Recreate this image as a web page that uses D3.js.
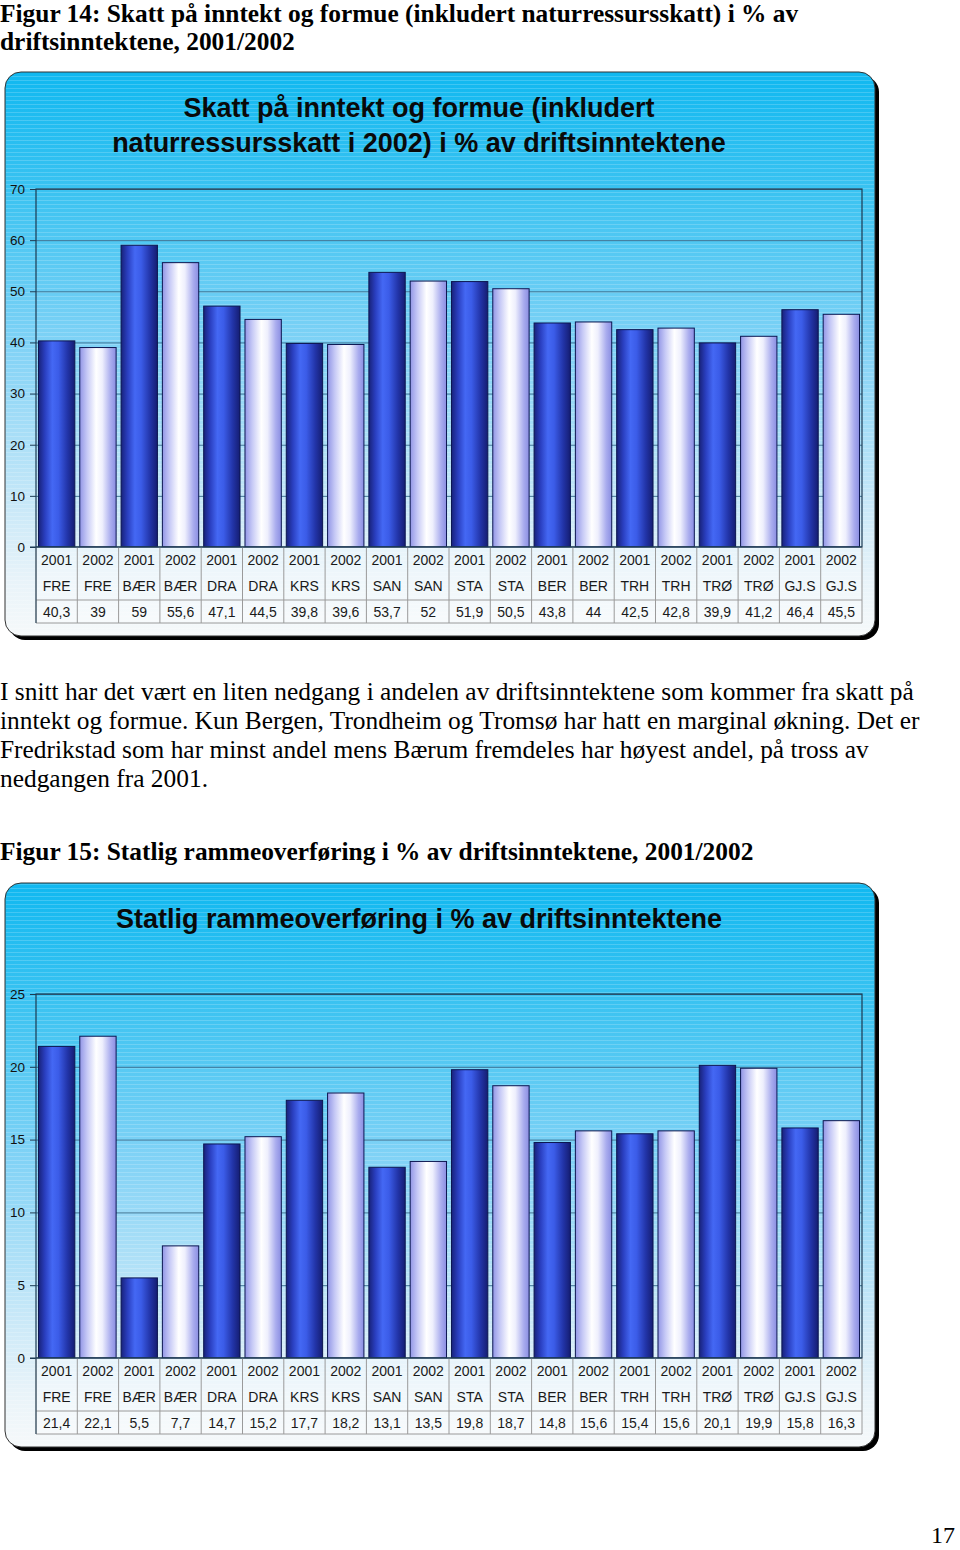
<!DOCTYPE html>
<html>
<head>
<meta charset="utf-8">
<script src="https://cdn.jsdelivr.net/npm/d3@7"></script>
<style>
  body { margin: 0; background: #fff; }
  svg { display: block; }
  .serif { font-family: "Liberation Serif", "Times New Roman", serif; fill: #000; }
  .sans { font-family: "Liberation Sans", Arial, sans-serif; }
</style>
</head>
<body>
<svg id="page" width="960" height="1550"></svg>
<script>
// ---- data ----
const cities = ["FRE", "BÆR", "DRA", "KRS", "SAN", "STA", "BER", "TRH", "TRØ", "GJ.S"];
const years = ["2001", "2002"];
const skattValues = [40.3, 39, 59, 55.6, 47.1, 44.5, 39.8, 39.6, 53.7, 52, 51.9, 50.5, 43.8, 44, 42.5, 42.8, 39.9, 41.2, 46.4, 45.5];
const rammeValues = [21.4, 22.1, 5.5, 7.7, 14.7, 15.2, 17.7, 18.2, 13.1, 13.5, 19.8, 18.7, 14.8, 15.6, 15.4, 15.6, 20.1, 19.9, 15.8, 16.3];
const skattTicks = [0, 10, 20, 30, 40, 50, 60, 70];
const rammeTicks = [0, 5, 10, 15, 20, 25];

const categories = cities.flatMap(c => years.map(y => ({ city: c, year: y })));
const fmt = v => String(v).replace(".", ",");

const svg = d3.select("#page");
const defs = svg.append("defs");

// frame background gradient (cyan -> white)
const bg = defs.append("linearGradient").attr("id", "frameBg")
  .attr("x1", 0).attr("y1", 0).attr("x2", 0).attr("y2", 1);
[[0, "#10b8f0"], [0.22, "#3cc3f1"], [0.5, "#84d3f6"], [0.78, "#cbe9f8"], [0.9, "#e8f3f9"], [1, "#f6f9fa"]]
  .forEach(([o, c]) => bg.append("stop").attr("offset", o).attr("stop-color", c));

// faint horizontal stripes
const stripes = defs.append("pattern").attr("id", "stripes")
  .attr("patternUnits", "userSpaceOnUse").attr("width", 8).attr("height", 4);
stripes.append("rect").attr("width", 8).attr("height", 1).attr("fill", "#fff").attr("opacity", 0.18);

// bar gradients
const g2001 = defs.append("linearGradient").attr("id", "bar2001");
[[0, "#18227a"], [0.18, "#2a3fc0"], [0.38, "#4468f4"], [0.55, "#3b5ce8"], [0.8, "#2234a8"], [1, "#151d72"]]
  .forEach(([o, c]) => g2001.append("stop").attr("offset", o).attr("stop-color", c));
const g2002 = defs.append("linearGradient").attr("id", "bar2002");
[[0, "#9296e6"], [0.2, "#c6c9f6"], [0.45, "#ffffff"], [0.62, "#eeeffd"], [0.85, "#a9acee"], [1, "#8a8ee2"]]
  .forEach(([o, c]) => g2002.append("stop").attr("offset", o).attr("stop-color", c));

// ---- page text ----
function textLines(lines, x, y0, lh, size, weight) {
  lines.forEach((t, i) => {
    svg.append("text").attr("class", "serif")
      .attr("x", x).attr("y", y0 + i * lh)
      .attr("font-size", size).attr("font-weight", weight)
      .text(t);
  });
}

textLines(["Figur 14: Skatt på inntekt og formue (inkludert naturressursskatt) i % av",
           "driftsinntektene, 2001/2002"], 0, 22, 28, 25.4, "bold");

textLines(["I snitt har det vært en liten nedgang i andelen av driftsinntektene som kommer fra skatt på",
           "inntekt og formue. Kun Bergen, Trondheim og Tromsø har hatt en marginal økning. Det er",
           "Fredrikstad som har minst andel mens Bærum fremdeles har høyest andel, på tross av",
           "nedgangen fra 2001."], 0, 700, 29, 25.4, "normal");

textLines(["Figur 15: Statlig rammeoverføring i % av driftsinntektene, 2001/2002"], 0, 860, 29, 25.4, "bold");

svg.append("text").attr("class", "serif").attr("x", 955).attr("y", 1543)
  .attr("text-anchor", "end").attr("font-size", 24).text("17");

// ---- charts ----
const plotLeft = 36, plotRight = 862;

function drawChart(o) {
  const g = svg.append("g");

  // frame with shadow
  g.append("rect").attr("x", o.frameX + 4).attr("y", o.frameY + 4)
    .attr("width", o.frameW).attr("height", o.frameH).attr("rx", 16).attr("fill", "#000");
  g.append("rect").attr("x", o.frameX).attr("y", o.frameY)
    .attr("width", o.frameW).attr("height", o.frameH).attr("rx", 16)
    .attr("fill", "url(#frameBg)").attr("stroke", "#333").attr("stroke-width", 1);
  g.append("rect").attr("x", o.frameX + 1).attr("y", o.frameY + 1)
    .attr("width", o.frameW - 2).attr("height", o.frameH - 2).attr("rx", 15)
    .attr("fill", "url(#stripes)");

  // title
  o.title.forEach((t, i) => {
    g.append("text").attr("class", "sans")
      .attr("x", 419).attr("y", o.titleY + i * 35)
      .attr("text-anchor", "middle").attr("font-size", 27).attr("font-weight", "bold")
      .attr("fill", "#0a0a0a").text(t);
  });

  const keys = d3.range(categories.length);
  const xCol = d3.scaleBand().domain(keys).range([plotLeft, plotRight]);
  const xBar = d3.scaleBand().domain(keys).range([plotLeft, plotRight])
    .paddingInner(0.12).paddingOuter(0.06);
  const y = d3.scaleLinear().domain([0, o.max]).range([o.plotBottom, o.plotTop]);

  // gridlines
  g.append("g").attr("transform", `translate(${plotLeft},0)`)
    .call(d3.axisLeft(y).tickValues(o.ticks).tickSize(-(plotRight - plotLeft)).tickFormat(""))
    .call(a => a.select(".domain").remove())
    .call(a => a.selectAll("line").attr("stroke", "#3f7595").attr("stroke-width", 1));

  // y axis with ticks and labels
  g.append("g").attr("transform", `translate(${plotLeft},0)`)
    .call(d3.axisLeft(y).tickValues(o.ticks).tickSize(6).tickPadding(5))
    .call(a => a.select(".domain").remove())
    .call(a => a.selectAll("line").attr("stroke", "#1c3a52"))
    .call(a => a.selectAll("text").attr("class", "sans").attr("font-size", 13.5).attr("fill", "#111"));

  // bars
  g.selectAll("rect.bar").data(o.values).join("rect").attr("class", "bar")
    .attr("x", (d, i) => xBar(i)).attr("width", xBar.bandwidth())
    .attr("y", d => y(d)).attr("height", d => y(0) - y(d))
    .attr("fill", (d, i) => categories[i].year === "2001" ? "url(#bar2001)" : "url(#bar2002)")
    .attr("stroke", "#0c1650").attr("stroke-width", 1);

  // plot border
  g.append("rect").attr("x", plotLeft).attr("y", o.plotTop)
    .attr("width", plotRight - plotLeft).attr("height", o.plotBottom - o.plotTop)
    .attr("fill", "none").attr("stroke", "#1c3a52").attr("stroke-width", 1.2);

  // data table
  const t = g.append("g");
  t.append("rect").attr("x", plotLeft).attr("y", o.plotBottom)
    .attr("width", plotRight - plotLeft).attr("height", o.tableBottom - o.plotBottom)
    .attr("fill", "#fff").attr("opacity", 0.35);
  t.selectAll("line.v").data(d3.range(categories.length + 1)).join("line")
    .attr("x1", i => plotLeft + i * xCol.step()).attr("x2", i => plotLeft + i * xCol.step())
    .attr("y1", o.plotBottom).attr("y2", o.tableBottom)
    .attr("stroke", "#9a9a9a").attr("stroke-width", 1);
  [o.divider, o.tableBottom].forEach(yy => {
    t.append("line").attr("x1", plotLeft).attr("x2", plotRight).attr("y1", yy).attr("y2", yy)
      .attr("stroke", "#9a9a9a").attr("stroke-width", 1);
  });
  t.append("line").attr("x1", plotLeft).attr("x2", plotLeft)
    .attr("y1", o.plotBottom).attr("y2", o.tableBottom).attr("stroke", "#1c3a52");

  const rows = [
    { yy: o.yearY, txt: d => d.year },
    { yy: o.cityY, txt: d => d.city },
    { yy: o.valueY, txt: (d, i) => fmt(o.values[i]) }
  ];
  rows.forEach(r => {
    t.selectAll(null).data(categories).join("text").attr("class", "sans")
      .attr("x", (d, i) => xCol(i) + xCol.bandwidth() / 2).attr("y", r.yy)
      .attr("dy", "0.36em").attr("text-anchor", "middle")
      .attr("font-size", 14).attr("fill", "#1a1a1a")
      .text(r.txt);
  });

  // zero line on top of table
  g.append("line").attr("x1", plotLeft - 6).attr("x2", plotRight)
    .attr("y1", o.plotBottom).attr("y2", o.plotBottom).attr("stroke", "#1c3a52").attr("stroke-width", 1.2);
}

drawChart({
  frameX: 5, frameY: 72, frameW: 870, frameH: 564,
  title: ["Skatt på inntekt og formue (inkludert", "naturressursskatt i 2002) i % av driftsinntektene"],
  titleY: 117,
  values: skattValues, ticks: skattTicks, max: 70,
  plotTop: 189, plotBottom: 547,
  yearY: 560, cityY: 586, divider: 600, valueY: 612, tableBottom: 623
});

drawChart({
  frameX: 5, frameY: 883, frameW: 870, frameH: 564,
  title: ["Statlig rammeoverføring i % av driftsinntektene"],
  titleY: 928,
  values: rammeValues, ticks: rammeTicks, max: 25,
  plotTop: 994, plotBottom: 1358,
  yearY: 1371, cityY: 1397, divider: 1411, valueY: 1423, tableBottom: 1434
});
</script>
</body>
</html>
